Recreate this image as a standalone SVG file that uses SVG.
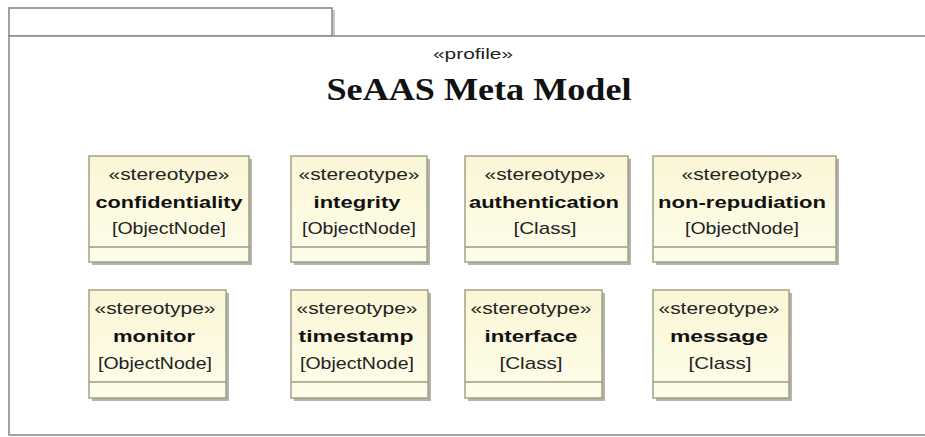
<svg xmlns="http://www.w3.org/2000/svg" width="925" height="437" viewBox="0 0 925 437">
<defs>
<linearGradient id="fillg" x1="0" y1="0" x2="0" y2="1">
<stop offset="0" stop-color="#faf6d6"/>
<stop offset="1" stop-color="#fefdea"/>
</linearGradient>
</defs>
<style>
.pkg{fill:#fff;stroke:#8a8a8a;stroke-width:1.6}
.pkgsh{fill:none;stroke:#c8c8c8;stroke-width:2}
.box{fill:url(#fillg);stroke:#9c9c82;stroke-width:1.4}
.sh{fill:#b4b4ac}
.sep{stroke:#9c9c82;stroke-width:1.4}
.st{font-family:"Liberation Sans",Arial,sans-serif;font-size:16px;fill:#222;text-anchor:middle}
.nm{font-family:"Liberation Sans",Arial,sans-serif;font-size:17px;font-weight:bold;fill:#111;text-anchor:middle}
.br{font-family:"Liberation Sans",Arial,sans-serif;font-size:17px;fill:#222;text-anchor:middle}
.ttl{font-family:"Liberation Serif","Times New Roman",serif;font-size:32px;font-weight:bold;fill:#111;text-anchor:middle}
.prf{font-family:"Liberation Sans",Arial,sans-serif;font-size:14.5px;fill:#222;text-anchor:middle}
</style>
<g id="package">
<path class="pkgsh" d="M334,10 V36"/>
<rect class="pkg" x="9" y="8" width="323" height="28"/>
<rect class="pkg" x="9" y="36" width="930" height="399"/>
<text class="prf" x="473" y="59" textLength="80" lengthAdjust="spacingAndGlyphs">«profile»</text>
<text class="ttl" x="479" y="100" textLength="305" lengthAdjust="spacingAndGlyphs">SeAAS Meta Model</text>
</g>
<g id="connectors"></g>
<g id="confidentiality">
<rect class="sh" x="92" y="159" width="160" height="106"/>
<rect class="box" x="89" y="156" width="160" height="106"/>
<line class="sep" x1="89" y1="247" x2="249" y2="247"/>
<text class="st" x="169" y="180" textLength="121" lengthAdjust="spacingAndGlyphs">«stereotype»</text>
<text class="nm" x="169" y="208" textLength="147" lengthAdjust="spacingAndGlyphs">confidentiality</text>
<text class="br" x="169" y="234" textLength="114" lengthAdjust="spacingAndGlyphs">[ObjectNode]</text>
</g>
<g id="integrity">
<rect class="sh" x="294" y="159" width="136" height="106"/>
<rect class="box" x="291" y="156" width="136" height="106"/>
<line class="sep" x1="291" y1="247" x2="427" y2="247"/>
<text class="st" x="359" y="180" textLength="121" lengthAdjust="spacingAndGlyphs">«stereotype»</text>
<text class="nm" x="357" y="208" textLength="87" lengthAdjust="spacingAndGlyphs">integrity</text>
<text class="br" x="359" y="234" textLength="114" lengthAdjust="spacingAndGlyphs">[ObjectNode]</text>
</g>
<g id="authentication">
<rect class="sh" x="468" y="159" width="163" height="106"/>
<rect class="box" x="465" y="156" width="163" height="106"/>
<line class="sep" x1="465" y1="247" x2="628" y2="247"/>
<text class="st" x="545" y="180" textLength="121" lengthAdjust="spacingAndGlyphs">«stereotype»</text>
<text class="nm" x="544" y="208" textLength="150" lengthAdjust="spacingAndGlyphs">authentication</text>
<text class="br" x="545" y="234" textLength="63" lengthAdjust="spacingAndGlyphs">[Class]</text>
</g>
<g id="non-repudiation">
<rect class="sh" x="656" y="159" width="183" height="106"/>
<rect class="box" x="653" y="156" width="183" height="106"/>
<line class="sep" x1="653" y1="247" x2="836" y2="247"/>
<text class="st" x="742" y="180" textLength="121" lengthAdjust="spacingAndGlyphs">«stereotype»</text>
<text class="nm" x="742" y="208" textLength="168" lengthAdjust="spacingAndGlyphs">non-repudiation</text>
<text class="br" x="742" y="234" textLength="114" lengthAdjust="spacingAndGlyphs">[ObjectNode]</text>
</g>
<g id="monitor">
<rect class="sh" x="92" y="293" width="137" height="108"/>
<rect class="box" x="89" y="290" width="137" height="108"/>
<line class="sep" x1="89" y1="382" x2="226" y2="382"/>
<text class="st" x="155" y="314" textLength="121" lengthAdjust="spacingAndGlyphs">«stereotype»</text>
<text class="nm" x="154" y="342" textLength="82" lengthAdjust="spacingAndGlyphs">monitor</text>
<text class="br" x="155" y="369" textLength="114" lengthAdjust="spacingAndGlyphs">[ObjectNode]</text>
</g>
<g id="timestamp">
<rect class="sh" x="294" y="293" width="137" height="108"/>
<rect class="box" x="291" y="290" width="137" height="108"/>
<line class="sep" x1="291" y1="382" x2="428" y2="382"/>
<text class="st" x="357" y="314" textLength="121" lengthAdjust="spacingAndGlyphs">«stereotype»</text>
<text class="nm" x="356" y="342" textLength="115" lengthAdjust="spacingAndGlyphs">timestamp</text>
<text class="br" x="357" y="369" textLength="114" lengthAdjust="spacingAndGlyphs">[ObjectNode]</text>
</g>
<g id="interface">
<rect class="sh" x="468" y="293" width="137" height="108"/>
<rect class="box" x="465" y="290" width="137" height="108"/>
<line class="sep" x1="465" y1="382" x2="602" y2="382"/>
<text class="st" x="531" y="314" textLength="121" lengthAdjust="spacingAndGlyphs">«stereotype»</text>
<text class="nm" x="531" y="342" textLength="93" lengthAdjust="spacingAndGlyphs">interface</text>
<text class="br" x="531" y="369" textLength="63" lengthAdjust="spacingAndGlyphs">[Class]</text>
</g>
<g id="message">
<rect class="sh" x="656" y="293" width="136" height="108"/>
<rect class="box" x="653" y="290" width="136" height="108"/>
<line class="sep" x1="653" y1="382" x2="789" y2="382"/>
<text class="st" x="719" y="314" textLength="121" lengthAdjust="spacingAndGlyphs">«stereotype»</text>
<text class="nm" x="719" y="342" textLength="98" lengthAdjust="spacingAndGlyphs">message</text>
<text class="br" x="720" y="369" textLength="63" lengthAdjust="spacingAndGlyphs">[Class]</text>
</g>
</svg>
